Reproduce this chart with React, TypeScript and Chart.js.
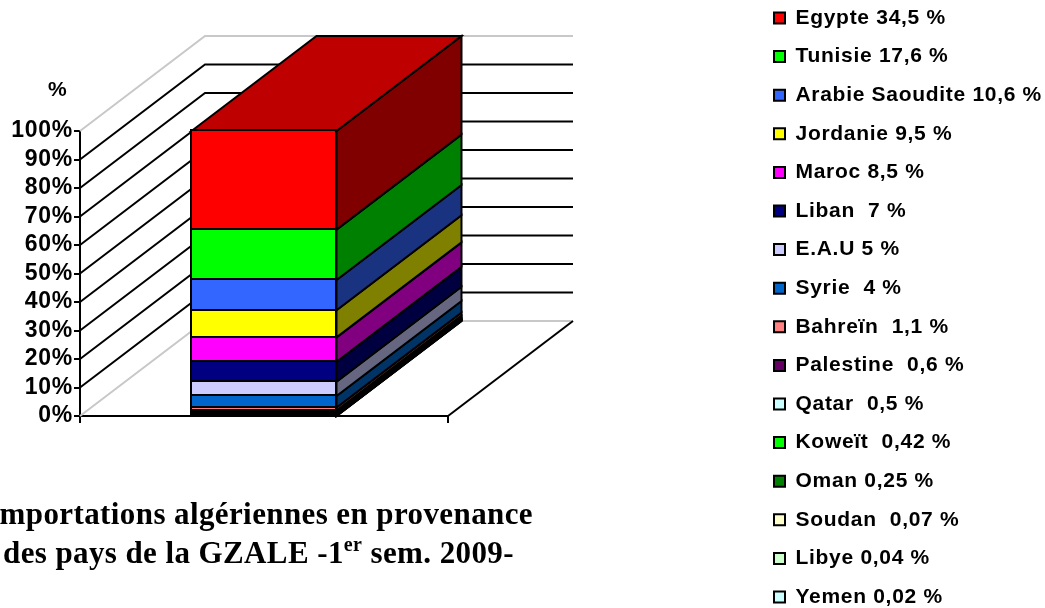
import React, { useEffect, useRef } from "react";
import { Chart, registerables } from "chart.js";

Chart.register(...registerables);

const countries = ["Egypte 34,5 %", "Tunisie 17,6 %", "Arabie Saoudite 10,6 %", "Jordanie 9,5 %", "Maroc 8,5 %", "Liban  7 %", "E.A.U 5 %", "Syrie  4 %", "Bahreïn  1,1 %", "Palestine  0,6 %", "Qatar  0,5 %", "Koweït  0,42 %", "Oman 0,25 %", "Soudan  0,07 %", "Libye 0,04 %", "Yemen 0,02 %"];
const values = [34.5, 17.6, 10.6, 9.5, 8.5, 7, 5, 4, 1.1, 0.6, 0.5, 0.42, 0.25, 0.07, 0.04, 0.02];
const frontColors = ["#FF0000", "#00FF00", "#3366FF", "#FFFF00", "#FF00FF", "#000080", "#CCCCFF", "#0066CC", "#FF8080", "#660066", "#CCFFFF", "#00FF00", "#008000", "#FFFFCC", "#CCFFCC", "#CCFFFF"];
const sideColors = ["#800000", "#008000", "#1A3380", "#808000", "#800080", "#000040", "#666680", "#003366", "#804040", "#330033", "#668080", "#008000", "#004000", "#808066", "#668066", "#668080"];
const topColor = "#BF0000";
const categories = [""];
const titleLine1 = "Importations algériennes en provenance";
const titleLine2 = ["des pays de la GZALE -1", "er", " sem. 2009-"];

const DEPTH_X = 125;
const DEPTH_Y = 95;

const total = values.reduce((a, b) => a + b, 0);

const wallsAndBar = {
  id: "wallsAndBar",
  afterLayout(chart: any) {
    const lg = chart.legend;
    lg.left = 756.4;
    lg.right = 1045;
    lg.top = -10.1;
    chart.titleBlock.left = 48;
  },
  beforeDraw(chart: any) {
    chart.ctx.letterSpacing = "0.7px";
  },
  beforeDatasetsDraw(chart: any) {
    const { ctx, scales } = chart;
    const { left, right } = chart.chartArea;
    ctx.save();
    ctx.lineJoin = "miter";
    ctx.lineCap = "butt";
    scales.y.ticks.forEach((t: any) => {
      const y = scales.y.getPixelForValue(t.value);
      const edge = t.value === 0 || t.value === 100;
      ctx.strokeStyle = edge ? "#c8c8c8" : "#000000";
      ctx.lineWidth = 2;
      ctx.beginPath();
      ctx.moveTo(left, y);
      ctx.lineTo(left + DEPTH_X, y - DEPTH_Y);
      ctx.lineTo(right + DEPTH_X, y - DEPTH_Y);
      ctx.stroke();
    });
    const y0 = scales.y.getPixelForValue(0);
    ctx.strokeStyle = "#000000";
    ctx.lineWidth = 2;
    ctx.beginPath();
    ctx.moveTo(right, y0);
    ctx.lineTo(right + DEPTH_X, y0 - DEPTH_Y);
    ctx.stroke();

    const n = chart.data.datasets.length;
    for (let i = 0; i < n; i++) {
      const bar = chart.getDatasetMeta(i).data[0] as any;
      const r = bar.x + bar.width / 2;
      const srcIndex = n - 1 - i;
      ctx.fillStyle = sideColors[srcIndex];
      ctx.strokeStyle = "#000000";
      ctx.lineWidth = 2;
      ctx.beginPath();
      ctx.moveTo(r, bar.y);
      ctx.lineTo(r + DEPTH_X, bar.y - DEPTH_Y);
      ctx.lineTo(r + DEPTH_X, bar.base - DEPTH_Y);
      ctx.lineTo(r, bar.base);
      ctx.closePath();
      ctx.fill();
      ctx.stroke();
    }
    const top = chart.getDatasetMeta(n - 1).data[0] as any;
    const l = top.x - top.width / 2;
    const r = top.x + top.width / 2;
    ctx.fillStyle = topColor;
    ctx.beginPath();
    ctx.moveTo(l, top.y);
    ctx.lineTo(l + DEPTH_X, top.y - DEPTH_Y);
    ctx.lineTo(r + DEPTH_X, top.y - DEPTH_Y);
    ctx.lineTo(r, top.y);
    ctx.closePath();
    ctx.fill();
    ctx.stroke();
    ctx.restore();
  },
  afterDatasetsDraw(chart: any) {
    const { ctx } = chart;
    ctx.save();
    ctx.strokeStyle = "#000000";
    ctx.lineWidth = 2;
    chart.data.datasets.forEach((_: any, i: number) => {
      const bar = chart.getDatasetMeta(i).data[0] as any;
      const x0 = Math.floor(bar.x - bar.width / 2);
      const x1 = Math.floor(bar.x + bar.width / 2);
      const y0 = Math.floor(bar.y);
      const y1 = Math.floor(bar.base);
      ctx.strokeRect(x0, y0, x1 - x0, y1 - y0);
    });
    ctx.restore();
  },
  afterDraw(chart: any) {
    const { ctx } = chart;
    ctx.save();
    ctx.letterSpacing = "0.4px";
    ctx.fillStyle = "#000000";
    ctx.textBaseline = "alphabetic";
    const font = "bold 31px 'Liberation Serif'";
    const supFont = "bold 20px 'Liberation Serif'";
    ctx.textAlign = "left";
    ctx.font = font;
    const w1 = ctx.measureText(titleLine1).width;
    ctx.fillText(titleLine1, 533 - w1, 524);
    let x = 3;
    ctx.fillText(titleLine2[0], x, 563);
    x += ctx.measureText(titleLine2[0]).width;
    ctx.font = supFont;
    ctx.fillText(titleLine2[1], x, 551);
    x += ctx.measureText(titleLine2[1]).width;
    ctx.font = font;
    ctx.fillText(titleLine2[2], x, 563);
    ctx.restore();
    ctx.letterSpacing = "0px";
  },
};

export default function App() {
  const ref = useRef<HTMLCanvasElement>(null);
  useEffect(() => {
    document.body.style.margin = "0";
    const chart = new Chart(ref.current!, {
      type: "bar",
      data: {
        labels: categories,
        datasets: countries
          .map((label, i) => ({
            label,
            data: [(values[i] / total) * 100],
            backgroundColor: frontColors[i],
            borderColor: "#000000",
            borderWidth: 0,
            inflateAmount: 0,
            barPercentage: 0.394,
            categoryPercentage: 1,
          }))
          .reverse(),
      } as any,
      plugins: [wallsAndBar as any],
      options: {
        animation: false,
        responsive: false,
        layout: { padding: { left: 0, right: 596, top: 0, bottom: 0 }, autoPadding: false },
        plugins: {
          tooltip: { enabled: false },
          title: {
            display: true,
            text: "%",
            align: "start",
            position: "top",
            fullSize: true,
            color: "#000000",
            font: { family: "'Liberation Sans'", size: 21, weight: "bold" },
            padding: { top: 77.4, bottom: 28.4 },
          },
          legend: {
            display: true,
            position: "right",
            align: "start",
            maxWidth: 1,
            reverse: true,
            labels: {
              boxWidth: 11,
              boxHeight: 11,
              padding: 17.6,
              color: "#000000",
              font: { family: "'Liberation Sans'", size: 21, weight: "bold" },
              generateLabels: (chart: any) =>
                Chart.defaults.plugins.legend.labels
                  .generateLabels(chart)
                  .map((item: any) => ({ ...item, lineWidth: 2, strokeStyle: "#000000" })),
            },
          },
        },
        scales: {
          x: {
            stacked: true,
            afterFit: (s: any) => {
              s.height = 680 - 416;
            },
            border: { color: "#000000", width: 2 },
            grid: { drawOnChartArea: false, drawTicks: true, tickLength: 7, color: "#000000", lineWidth: 2, offset: true },
            ticks: { display: false },
          },
          y: {
            stacked: true,
            min: 0,
            max: 100,
            afterFit: (s: any) => {
              s.width = 80;
            },
            border: { color: "#000000", width: 2 },
            grid: { drawOnChartArea: false, drawTicks: true, tickLength: 6, color: "#000000", lineWidth: 2 },
            ticks: {
              stepSize: 10,
              autoSkip: false,
              padding: 1,
              color: "#000000",
              font: { family: "'Liberation Sans'", size: 23, weight: "bold" },
              callback: (v: any) => v + "%",
            },
          },
        },
      } as any,
    });
    return () => chart.destroy();
  }, []);
  return (
    <div style={{ width: 1045, height: 608, overflow: "hidden", position: "relative" }}>
      <canvas ref={ref} width={1045} height={680} style={{ display: "block" }} />
    </div>
  );
}
